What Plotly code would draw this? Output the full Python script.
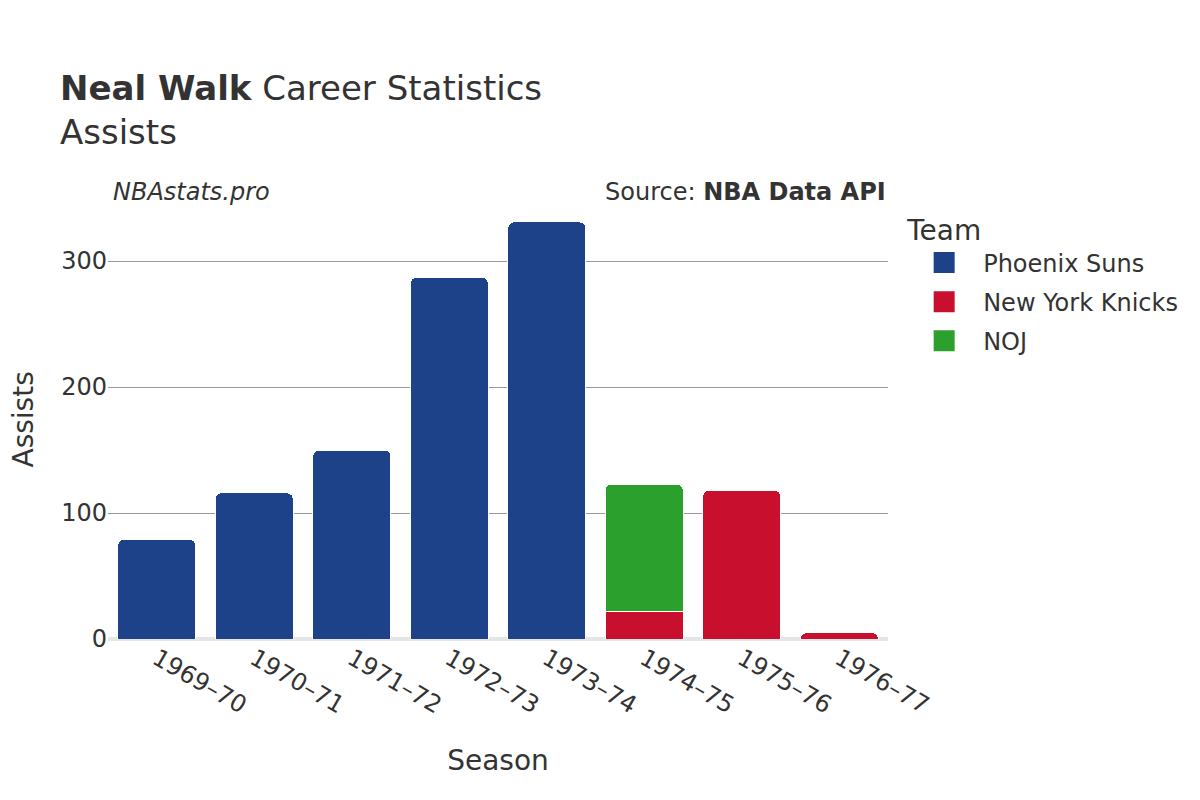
from plotly import graph_objects as go

SEASONS = ['1969–70', '1970–71', '1971–72', '1972–73', '1973–74', '1974–75', '1975–76', '1976–77']
PHX_ASSISTS = [79, 116, 150, 287, 331, None, None, None]
NYK_ASSISTS = [None, None, None, None, None, 22, 118, 5]
NOJ_ASSISTS = [None, None, None, None, None, 101, None, None]

TEAMS = [('Phoenix Suns', PHX_ASSISTS, '#1d428a'),
         ('New York Knicks', NYK_ASSISTS, '#c8102e'),
         ('NOJ', NOJ_ASSISTS, '#2ca02c')]

FONT = "DejaVu Sans"
TEXT_COLOR = '#333333'

fig = go.Figure()
for name, values, color in TEAMS:
    fig.add_trace(go.Bar(x=SEASONS, y=values, name=name, legendgroup=name,
                         showlegend=False, marker_color=color,
                         marker_line=dict(color='white', width=1)))
    # legend-only entry so the swatch can be bigger than the bar default
    fig.add_trace(go.Scatter(x=[None], y=[None], mode='markers', name=name,
                             legendgroup=name,
                             marker=dict(symbol='square', size=16, color=color,
                                         line=dict(color=color, width=5))))

# note: the page body has an 8px margin, margins below account for it
fig.update_layout(
    barmode='stack',
    barcornerradius=6,
    width=1200, height=800,
    plot_bgcolor='white', paper_bgcolor='white',
    font=dict(family=FONT, color=TEXT_COLOR, size=24),
    title=dict(text="<b>Neal Walk</b> Career Statistics<br>Assists",
               x=0.0433, xanchor='left', y=0.885, yanchor='top',
               font=dict(size=34, color=TEXT_COLOR)),
    margin=dict(l=100, r=320, t=192, b=169),
    legend=dict(title=dict(text='Team', font=dict(size=28)),
                x=1.022, xanchor='left', y=0.991, yanchor='top',
                font=dict(size=24), itemsizing='trace', itemwidth=68,
                traceorder='grouped', tracegroupgap=5),
    xaxis=dict(title=dict(text='Season', font=dict(size=28), standoff=31),
               tickangle=30, showgrid=False, tickfont=dict(size=24),
               automargin=False),
    yaxis=dict(gridcolor='#999999', gridwidth=1, zeroline=True,
               zerolinecolor='#e5e5e5', zerolinewidth=4,
               tickfont=dict(size=24), tickvals=[0, 100, 200, 300],
               automargin=False),
    bargap=0.2,
)

# y axis title as an annotation so it can sit further left
fig.add_annotation(text="Assists", xref='paper', yref='paper',
                   x=0.0, y=0.5, xanchor='center', yanchor='middle',
                   xshift=-85, textangle=-90, showarrow=False,
                   font=dict(size=28, color=TEXT_COLOR, family=FONT))
fig.add_annotation(text="<i>NBAstats.pro</i>", xref='paper', yref='paper',
                   x=0.0, y=1.0, xanchor='left', yanchor='bottom',
                   xshift=3, yshift=-8, showarrow=False,
                   font=dict(size=24, color=TEXT_COLOR, family=FONT))
fig.add_annotation(text="Source: <b>NBA Data API</b>", xref='paper', yref='paper',
                   x=1.0, y=1.0, xanchor='right', yanchor='bottom',
                   xshift=0, yshift=-8, showarrow=False,
                   font=dict(size=24, color=TEXT_COLOR, family=FONT))

fig.write_html("out.html")
